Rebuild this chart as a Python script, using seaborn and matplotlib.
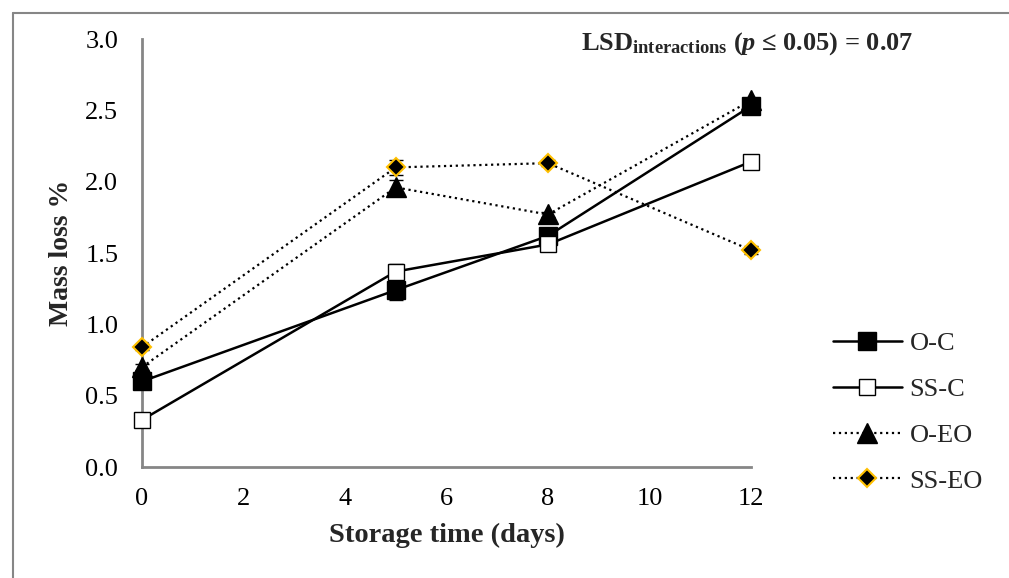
import numpy as np
import pandas as pd
import matplotlib
matplotlib.use("Agg")
import matplotlib.pyplot as plt
import seaborn as sns
from matplotlib.lines import Line2D

# Dados
dias = [0, 5, 8, 12]
series = ["O-C", "SS-C", "O-EO", "SS-EO"]
perda_oc = [0.60, 1.24, 1.62, 2.53]
perda_ssc = [0.33, 1.37, 1.56, 2.14]
perda_oeo = [0.70, 1.96, 1.77, 2.57]
perda_sseo = [0.84, 2.10, 2.13, 1.52]
erro_oc = [0.03, 0.07, 0.03, 0.03]
erro_ssc = [0.02, 0.05, 0.02, 0.02]
erro_oeo = [0.02, 0.05, 0.02, 0.02]
erro_sseo = [0.02, 0.05, 0.02, 0.03]

df = pd.DataFrame({
    "dia": dias * 4,
    "serie": np.repeat(series, len(dias)),
    "perda": perda_oc + perda_ssc + perda_oeo + perda_sseo,
    "erro": erro_oc + erro_ssc + erro_oeo + erro_sseo,
})

# Estilo
sns.set_theme(style="white")
plt.rcParams["font.family"] = ["Liberation Serif", "DejaVu Serif"]
plt.rcParams["mathtext.fontset"] = "custom"
plt.rcParams["mathtext.rm"] = "Liberation Serif:bold"
plt.rcParams["mathtext.bf"] = "Liberation Serif:bold"
plt.rcParams["mathtext.it"] = "Liberation Serif:bold:italic"

estilos = {
    "O-C": dict(ls="-", marker="s", mfc="black", mec="black", ms=13, mew=1),
    "SS-C": dict(ls="-", marker="s", mfc="white", mec="black", ms=12, mew=1),
    "O-EO": dict(ls=":", marker="^", mfc="black", mec="black", ms=14, mew=1),
    "SS-EO": dict(ls=":", marker="D", mfc="black", mec="#FFC000", ms=9, mew=1.5),
}

fig = plt.figure(figsize=(10.09, 5.78), dpi=100)
ax = fig.add_axes([0.1407, 0.192, 0.6036, 0.7405])

cinza = "#868686"
handles = []
for s in series:
    d = df[df["serie"] == s]
    st = estilos[s]
    lw = 1.8 if st["ls"] == "-" else 1.6
    ax.errorbar(d["dia"], d["perda"], yerr=d["erro"], fmt="none",
                ecolor="black", elinewidth=1, capsize=5, capthick=1,
                zorder=2, clip_on=False)
    sns.lineplot(x=d["dia"], y=d["perda"], ax=ax, color="black",
                 linestyle=st["ls"], linewidth=lw,
                 marker=st["marker"], markerfacecolor=st["mfc"],
                 markeredgecolor=st["mec"], markersize=st["ms"],
                 markeredgewidth=st["mew"], zorder=3, clip_on=False)
    handles.append(Line2D([0], [0], color="black", linestyle=st["ls"],
                          linewidth=lw, marker=st["marker"],
                          markerfacecolor=st["mfc"], markeredgecolor=st["mec"],
                          markersize=st["ms"], markeredgewidth=st["mew"],
                          label=s))

ax.set_xlim(0, 12)
ax.set_ylim(0, 3)
ax.set_xticks(range(0, 13, 2))
ax.set_yticks(np.arange(0, 3.01, 0.5))
ax.set_yticklabels([f"{v:.1f}" for v in np.arange(0, 3.01, 0.5)])
ax.tick_params(axis="both", direction="out", length=7, width=1.2, color=cinza,
               labelsize=19, labelcolor="black")
ax.tick_params(axis="y", pad=10)
ax.tick_params(axis="x", pad=8)
for lado in ["top", "right"]:
    ax.spines[lado].set_visible(False)
for lado in ["left", "bottom"]:
    ax.spines[lado].set_color(cinza)
    ax.spines[lado].set_linewidth(2)

ax.set_xlabel("Storage time (days)", fontsize=20.5, fontweight="bold", labelpad=9)
ax.set_ylabel("Mass loss %", fontsize=20, fontweight="bold", labelpad=8)

fig.text(0.905, 0.925, r"LSD$_{\mathbf{interactions}}$ ($\mathit{p}$ ≤ 0.05) = 0.07",
         fontsize=19, fontweight="bold", ha="right", va="center")

fig.legend(handles=handles, loc="center left", bbox_to_anchor=(0.815, 0.287),
           frameon=False, fontsize=19, handlelength=2.6, handletextpad=0.3,
           labelspacing=0.85, borderaxespad=0)

# Moldura externa
fig.add_artist(Line2D([0.0129, 0.0129], [0.0, 0.9775], color=cinza, lw=1.5,
                      transform=fig.transFigure))
fig.add_artist(Line2D([0.0129, 1.0], [0.9775, 0.9775], color=cinza, lw=1.5,
                      transform=fig.transFigure))

fig.savefig("out.png", dpi=100)
